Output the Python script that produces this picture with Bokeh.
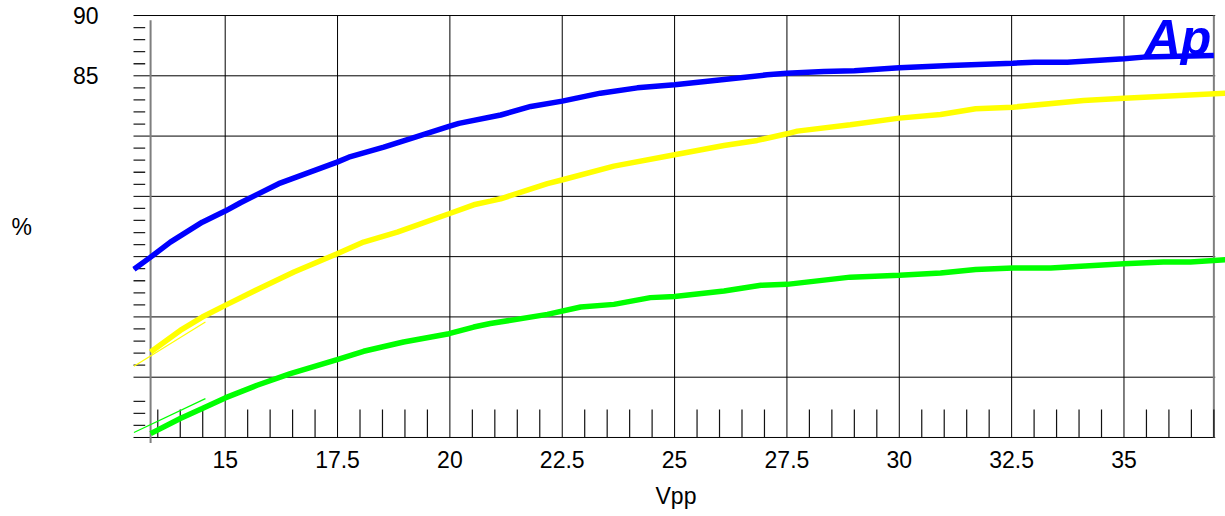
from bokeh.plotting import figure
from bokeh.models import FixedTicker, NumeralTickFormatter, Label, Range1d
from bokeh.embed import file_html
from bokeh.resources import INLINE

# ---- data ----
vpp_blue = [12.97, 13.34, 13.78, 14.49, 15.0, 15.34, 16.19, 17.49, 17.75, 18.53, 19.23, 19.98,
            20.2, 21.13, 21.8, 22.5, 23.35, 24.17, 25.0, 26.1, 27.06, 27.5, 28.32, 29.0,
            30.0, 31.14, 32.53, 33.0, 33.74, 35.0, 35.44, 37.0]
eff_blue = [68.95, 69.96, 71.2, 72.86, 73.78, 74.47, 76.05, 77.84, 78.25, 79.08, 79.91, 80.8,
            81.05, 81.75, 82.46, 82.9, 83.56, 84.0, 84.25, 84.7, 85.08, 85.22, 85.36, 85.42,
            85.66, 85.85, 86.05, 86.13, 86.13, 86.41, 86.55, 86.68]

vpp_yellow = [13.34, 14.0, 14.49, 15.0, 15.75, 16.53, 17.49, 18.08, 18.83, 19.98, 20.53, 20.9,
              21.13, 22.17, 22.51, 23.65, 25.0, 26.1, 26.84, 27.5, 27.73, 28.91, 30.0, 30.92,
              31.7, 32.53, 34.1, 35.0, 37.26]
eff_yellow = [62.09, 63.88, 64.99, 65.96, 67.34, 68.72, 70.24, 71.21, 72.04, 73.56, 74.3, 74.6,
              74.8, 76.05, 76.38, 77.51, 78.45, 79.22, 79.64, 80.19, 80.41, 80.94, 81.49, 81.79,
              82.26, 82.4, 82.95, 83.14, 83.56]

vpp_green = [13.34, 14.0, 14.49, 15.0, 15.71, 16.45, 17.49, 18.08, 18.97, 19.98, 20.53, 20.9,
             22.17, 22.91, 23.65, 24.46, 25.0, 26.1, 26.92, 27.5, 28.91, 30.0, 30.92, 31.7,
             32.53, 33.37, 35.0, 35.88, 36.48, 37.26]
eff_green = [55.32, 56.57, 57.4, 58.28, 59.33, 60.3, 61.46, 62.15, 62.92, 63.61, 64.16, 64.45,
             65.21, 65.82, 66.04, 66.6, 66.7, 67.15, 67.62, 67.7, 68.3, 68.45, 68.64, 68.94,
             69.05, 69.05, 69.42, 69.55, 69.55, 69.75]

# thin stray traces near the start
vpp_yellow_thin = [12.97, 14.56]
eff_yellow_thin = [60.9, 64.57]
vpp_green_thin = [12.97, 14.56]
eff_green_thin = [55.41, 58.22]

x_grid = [15, 17.5, 20, 22.5, 25, 27.5, 30, 32.5, 35]
y_grid = [55, 60, 65, 70, 75, 80, 85, 90]
y_tick_labels = [85, 90]
x_minor = [13.5, 14, 14.5, 15.5, 16, 16.5, 17, 18, 18.5, 19, 19.5, 20.5, 21, 21.5, 22,
           23, 23.5, 24, 24.5, 25.5, 26, 26.5, 27, 28, 28.5, 29, 29.5, 30.5, 31, 31.5, 32,
           33, 33.5, 34, 34.5, 35.5, 36, 36.5, 37]
y_minor = [56, 57, 58, 61, 62, 63, 64, 66, 67, 68, 69, 71, 72, 73, 74, 76, 77, 78, 79,
           81, 82, 83, 84, 86, 87, 88, 89]

# ---- layout constants ----
X_START, X_END = 12.804, 37.259
Y_START, Y_END = 54.5, 90.5
X_LEFT, X_RIGHT = 12.96, 37.0
X_AXISLINE = 13.34
Y_BOTTOM, Y_TOP = 55, 90

p = figure(width=1225, height=516,
           x_range=Range1d(X_START, X_END), y_range=Range1d(Y_START, Y_END),
           output_backend="svg", toolbar_location=None,
           min_border_left=126, min_border_right=0, min_border_top=9, min_border_bottom=73)
p.outline_line_color = None
p.grid.visible = False
p.background_fill_color = "white"
p.border_fill_color = "white"

FONT = "Liberation Sans"

# x axis
p.xaxis.ticker = FixedTicker(ticks=x_grid)
p.xaxis.formatter = NumeralTickFormatter(format="0.[0]")
p.xaxis.axis_line_color = None
p.xaxis.major_tick_line_color = None
p.xaxis.minor_tick_line_color = None
p.xaxis.major_label_standoff = 1
p.xaxis.major_label_text_font = FONT
p.xaxis.major_label_text_font_size = "23px"
p.xaxis.major_label_text_color = "black"
p.xaxis.axis_label = "Vpp"
p.xaxis.axis_label_standoff = 12
p.xaxis.axis_label_text_font = FONT
p.xaxis.axis_label_text_font_size = "23px"
p.xaxis.axis_label_text_font_style = "normal"
p.xaxis.axis_label_text_color = "black"

# y axis
p.yaxis.ticker = FixedTicker(ticks=y_tick_labels)
p.yaxis.formatter = NumeralTickFormatter(format="0")
p.yaxis.axis_line_color = None
p.yaxis.major_tick_line_color = None
p.yaxis.minor_tick_line_color = None
p.yaxis.major_label_standoff = 22
p.yaxis.major_label_text_font = FONT
p.yaxis.major_label_text_font_size = "23px"
p.yaxis.major_label_text_color = "black"
p.yaxis.axis_label = "%"
p.yaxis.axis_label_standoff = 38
p.yaxis.axis_label_text_font = FONT
p.yaxis.axis_label_text_font_size = "23px"
p.yaxis.axis_label_text_font_style = "normal"
p.yaxis.axis_label_text_color = "black"
try:
    p.yaxis.axis_label_orientation = "horizontal"
except Exception:
    pass

# grid lines
p.segment(x0=x_grid, y0=[Y_BOTTOM] * len(x_grid), x1=x_grid, y1=[Y_TOP] * len(x_grid),
          line_color="black", line_width=1)
p.segment(x0=[X_LEFT] * len(y_grid), y0=y_grid, x1=[X_RIGHT + 0.03] * len(y_grid), y1=y_grid,
          line_color="black", line_width=1)
# frame verticals
p.segment(x0=[X_AXISLINE, X_RIGHT], y0=[54.55, 55], x1=[X_AXISLINE, X_RIGHT], y1=[89.6, 90],
          line_color="#7f7f7f", line_width=2)
# minor ticks
p.segment(x0=[X_LEFT] * len(y_minor), y0=y_minor, x1=[X_LEFT + 0.26] * len(y_minor), y1=y_minor,
          line_color="#222222", line_width=1.3)
p.segment(x0=x_minor, y0=[Y_BOTTOM] * len(x_minor), x1=x_minor, y1=[Y_BOTTOM + 2.32] * len(x_minor),
          line_color="#111111", line_width=1.2)

# thin traces
p.line(vpp_yellow_thin, eff_yellow_thin, line_color="#FFFF00", line_width=1.2)
p.line(vpp_green_thin, eff_green_thin, line_color="#00FF00", line_width=1.2)

# curves
p.line(vpp_green, eff_green, line_color="#00FF00", line_width=5.5)
p.line(vpp_yellow, eff_yellow, line_color="#FFFF00", line_width=5.5)
p.line(vpp_blue, eff_blue, line_color="#0000FF", line_width=5.5)

# logo
p.add_layout(Label(x=35.46, y=88.13, text="Ap", text_align="left", text_baseline="middle",
                   text_font=FONT, text_font_size="50px", text_font_style="bold italic",
                   text_color="#0000FF"))

open("out.html", "w").write(file_html(p, INLINE))
